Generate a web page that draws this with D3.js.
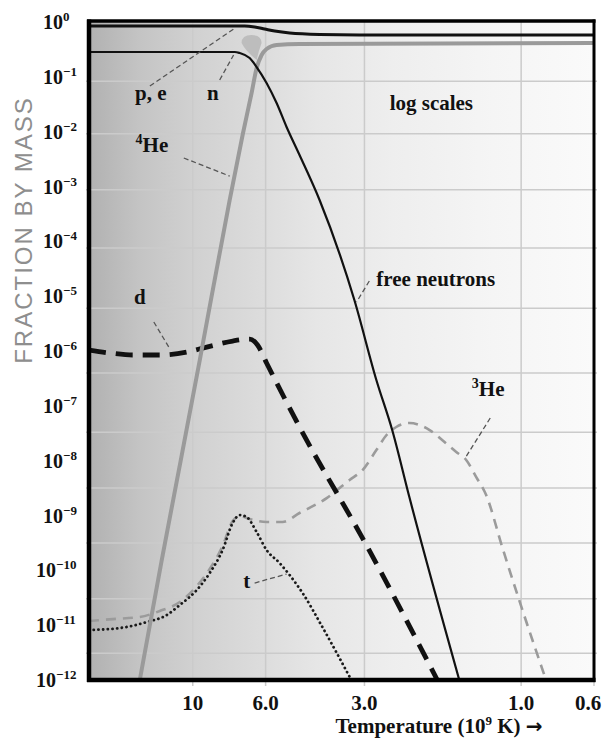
<!DOCTYPE html>
<html>
<head>
<meta charset="utf-8">
<script src="https://cdn.jsdelivr.net/npm/d3@7"></script>
<style>
  body { margin: 0; background: #fff; }
  text { font-family: "Liberation Serif", "Times New Roman", serif; font-weight: bold; fill: #111; }
</style>
</head>
<body>
<svg id="chart" width="605" height="740"></svg>
<script>
// temperature in 10^9 K, mass fraction
const peT = [20.7, 6.95, 6.48, 6.04, 5.63, 5.07, 4.11, 3.11, 0.6];
const peV = [0.845, 0.845, 0.811, 0.745, 0.685, 0.630, 0.592, 0.58, 0.58];

const nT = [20.7, 7.45, 7.2, 6.71, 6.39, 5.96, 5.555, 5.18, 4.73, 4.11, 3.22, 2.76, 2.47, 2.19, 1.543];
const nV = [0.284, 0.284, 0.272, 0.220, 0.151, 0.0772, 0.0333, 0.01217, 3.75e-3, 5.67e-4, 8.5e-6, 2.96e-7, 3.62e-8, 2.17e-9, 1e-12];

const he4T = [14.5, 12.43, 10.8, 9.52, 7.72, 7.05, 6.62, 6.39, 6.17, 5.96, 5.555, 4.73, 0.6];
const he4V = [1e-12, 1.54e-10, 1.27e-8, 6.85e-7, 5.67e-4, 8.69e-3, 0.0507, 0.145, 0.250, 0.322, 0.381, 0.397, 0.414];

const dT = [20.7, 17.88, 15.22, 12.6, 10.43, 9.07, 7.56, 6.71, 6.35, 5.96, 4.73, 2.96, 1.80];
const dV = [1.04e-6, 9.18e-7, 8.45e-7, 8.45e-7, 9.57e-7, 1.18e-6, 1.52e-6, 1.65e-6, 1.29e-6, 6.04e-7, 4.11e-8, 2.89e-10, 1e-12];

const he3T = [20.7, 17.5, 14.5, 12.6, 10.95, 9.72, 8.88, 8.11, 7.56, 7.15, 6.71, 5.96, 5.33, 4.73, 3.91, 3.33, 3.04, 2.76, 2.57, 2.40, 2.19, 1.90, 1.74, 1.576, 1.47, 1.37, 1.278, 1.142, 1.014, 0.84];
const he3V = [1.19e-11, 1.29e-11, 1.41e-11, 1.81e-11, 2.64e-11, 5.18e-11, 1.06e-10, 2.78e-10, 7.93e-10, 9.78e-10, 8.62e-10, 7.6e-10, 7.6e-10, 1.11e-9, 2.08e-9, 4.44e-9, 6.75e-9, 1.56e-8, 2.94e-8, 4.11e-8, 4.86e-8, 3.62e-8, 2.38e-8, 1.44e-8, 1.03e-8, 5.03e-9, 2.36e-9, 2.66e-10, 2.87e-11, 1e-12];

const tT = [20.7, 16.67, 13.8, 12.0, 10.95, 9.72, 8.88, 8.11, 7.56, 7.19, 6.85, 6.39, 5.96, 5.44, 5.07, 4.63, 4.03, 3.29];
const tV = [8.15e-12, 8.87e-12, 1.14e-11, 1.53e-11, 2.33e-11, 4.38e-11, 8.93e-11, 2.35e-10, 7.29e-10, 1.02e-9, 9.38e-10, 5.0e-10, 2.35e-10, 1.36e-10, 8.2e-11, 3.86e-11, 9.25e-12, 1e-12];

// axis ticks
const xTicks = [10, 6.0, 3.0, 1.0, 0.6];
const xTickLabels = ["10", "6.0", "3.0", "1.0", "0.6"];
const xGrid = [10, 6, 3, 1];
const yExps = [0, -1, -2, -3, -4, -5, -6, -7, -8, -9, -10, -11, -12];
// the grid rows in the figure do not sit exactly on the decades
const yGridExps = [-1.08, -2.04, -3.06, -4.12, -5.22, -6.4, -7.48, -8.5, -9.5, -10.52, -11.51];

// the grey patch where n and 4He cross
const blobAt = [6.62, 0.414];
const blobTip = [6.39, 0.203];

// labels with their dashed pointers: [T, fraction]
const notes = [
  {text: "p, e", at: [13.42, 0.0507], from: [13.51, 0.068], to: [7.51, 0.745]},
  {text: "n", at: [8.69, 0.0507], from: [8.28, 0.0875], to: [7.51, 0.25]},
  {text: "He", sup: "4", at: [13.32, 4.26e-3], from: [10.65, 3.31e-3], to: [7.72, 1.55e-3]},
  {text: "log scales", at: [1.877, 0.0333]},
  {text: "d", at: [14.5, 9.66e-6], from: [13.14, 3.38e-6], to: [11.83, 1.18e-6]},
  {text: "free neutrons", at: [2.76, 2.06e-5], from: [2.90, 1.89e-5], to: [3.17, 7.82e-6], start: true},
  {text: "He", sup: "3", at: [1.26, 1.51e-7], from: [1.242, 6.0e-8], to: [1.48, 1.12e-8]},
  {text: "t", at: [6.85, 6.38e-11], from: [6.48, 5.87e-11], to: [5.18, 8.57e-11]}
];

const svg = d3.select("#chart");
const pl = 89, pr = 594, pt = 22, pb = 680;

const x = d3.scaleLog().domain([20.7, 0.6]).range([pl, pr]);
const y = d3.scaleLog().domain([1, 1e-12]).range([pt, pb]);

const defs = svg.append("defs");
const grad = defs.append("linearGradient").attr("id", "bg").attr("x1", 0).attr("x2", 1).attr("y1", 0).attr("y2", 0);
[[0, "#b1b1b1"], [0.1, "#c4c4c4"], [0.2, "#d0d0d0"], [0.35, "#dddddd"], [0.45, "#e6e6e6"], [0.6, "#eeeeee"], [0.8, "#f5f5f5"], [1, "#fafafa"]]
  .forEach(s => grad.append("stop").attr("offset", s[0]).attr("stop-color", s[1]));
defs.append("clipPath").attr("id", "clip")
  .append("rect").attr("x", pl).attr("y", pt - 1).attr("width", pr - pl).attr("height", pb - pt + 1);

svg.append("rect")
   .attr("x", pl).attr("y", pt - 1)
   .attr("width", pr - pl).attr("height", pb - pt + 1)
   .attr("fill", "url(#bg)");

// grid
svg.append("g").selectAll("line")
   .data(yGridExps)
   .enter().append("line")
   .attr("x1", pl - 3).attr("x2", pr + 3)
   .attr("y1", d => y(Math.pow(10, d))).attr("y2", d => y(Math.pow(10, d)))
   .attr("stroke", "#cbcbcb").attr("stroke-width", 1.5);

svg.append("g").selectAll("line")
   .data(xGrid)
   .enter().append("line")
   .attr("x1", d => x(d)).attr("x2", d => x(d))
   .attr("y1", pt).attr("y2", pb + 6)
   .attr("stroke", "#cbcbcb").attr("stroke-width", 1.5);

svg.append("line")
   .attr("x1", x(0.6)).attr("x2", x(0.6)).attr("y1", pb).attr("y2", pb + 6)
   .attr("stroke", "#cbcbcb").attr("stroke-width", 1.5);

const plot = svg.append("g").attr("clip-path", "url(#clip)");

// patch
const bx = x(blobAt[0]), by = y(blobAt[1]), tx = x(blobTip[0]), ty = y(blobTip[1]);
plot.append("path")
    .attr("d", `M${bx - 10},${by} Q${bx - 10},${by - 8} ${bx},${by - 8} Q${bx + 10},${by - 8} ${bx + 10},${by} Q${bx + 7},${by + 8} ${tx},${ty} Q${bx - 6},${by + 8} ${bx - 10},${by} Z`)
    .attr("fill", "#bdbdbd");

const line = d3.line()
               .x(d => x(d[0]))
               .y(d => y(d[1]))
               .curve(d3.curveMonotoneX);

function series(T, V, stroke, width, dash, cap) {
  plot.append("path")
      .datum(T.map((t, i) => [t, V[i]]))
      .attr("d", line)
      .attr("fill", "none")
      .attr("stroke", stroke)
      .attr("stroke-width", width)
      .attr("stroke-dasharray", dash)
      .attr("stroke-linecap", cap || "butt");
}

series(he3T, he3V, "#9b9b9b", 2.6, "10,7");
series(tT, tV, "#1a1a1a", 2.8, "0.1,4.6", "round");
series(dT, dV, "#111", 4.8, "17,10");
series(he4T, he4V, "#9a9a9a", 4, null);
series(nT, nV, "#111", 2.2, null);
series(peT, peV, "#111", 3, null);

// frame
svg.append("line").attr("x1", pl - 2).attr("x2", pr + 1.5).attr("y1", pt - 1).attr("y2", pt - 1)
   .attr("stroke", "#000").attr("stroke-width", 3.5);
svg.append("line").attr("x1", pr).attr("x2", pr).attr("y1", pt - 2.5).attr("y2", pb + 2)
   .attr("stroke", "#000").attr("stroke-width", 3);
svg.append("line").attr("x1", pl).attr("x2", pl).attr("y1", pt - 2.5).attr("y2", pb + 2)
   .attr("stroke", "#000").attr("stroke-width", 4.5);
svg.append("line").attr("x1", pl - 2).attr("x2", pr + 1.5).attr("y1", pb).attr("y2", pb)
   .attr("stroke", "#000").attr("stroke-width", 4.5);

// y tick labels
const yLab = svg.append("g").selectAll("text")
   .data(yExps)
   .enter().append("text")
   .attr("x", d => d <= -10 ? 36 : 43)
   .attr("y", d => y(Math.pow(10, d)) + 7)
   .attr("font-size", 20);
yLab.append("tspan").text("10");
yLab.append("tspan").attr("font-size", 13).attr("dy", -8)
    .text(d => d === 0 ? "0" : "\u2212" + (-d));

// x tick labels
svg.append("g").selectAll("text")
   .data(xTicks)
   .enter().append("text")
   .attr("x", d => x(d) - (d === 0.6 ? 6 : 0))
   .attr("y", 710)
   .attr("text-anchor", "middle")
   .attr("font-size", 21)
   .text((d, i) => xTickLabels[i]);

// axis titles
const xt = svg.append("text")
   .attr("x", 439).attr("y", 733)
   .attr("text-anchor", "middle")
   .attr("font-size", 21);
xt.append("tspan").text("Temperature (10");
xt.append("tspan").attr("font-size", 13).attr("dy", -8).text("9");
xt.append("tspan").attr("dy", 8).text(" K) ");
xt.append("tspan").style("font-family", "'DejaVu Sans', sans-serif").attr("font-size", 20).text("\u2192");

svg.append("text")
   .attr("transform", "translate(32,230) rotate(-90)")
   .attr("text-anchor", "middle")
   .attr("font-size", 24)
   .attr("letter-spacing", 2)
   .style("fill", "#8e8e8e")
   .style("font-family", "'Liberation Sans', Arial, sans-serif")
   .style("font-weight", "normal")
   .text("FRACTION BY MASS");

// annotations
const pointers = notes.filter(d => d.from);
svg.append("g").selectAll("line")
   .data(pointers)
   .enter().append("line")
   .attr("x1", d => x(d.from[0])).attr("y1", d => y(d.from[1]))
   .attr("x2", d => x(d.to[0])).attr("y2", d => y(d.to[1]))
   .attr("stroke", "#555").attr("stroke-width", 1.3).attr("stroke-dasharray", "5,3");

const lab = svg.append("g").selectAll("text")
   .data(notes)
   .enter().append("text")
   .attr("x", d => x(d.at[0]))
   .attr("y", d => y(d.at[1]))
   .attr("dy", "0.35em")
   .attr("text-anchor", d => d.start ? "start" : "middle")
   .attr("font-size", 21);
lab.filter(d => d.sup).append("tspan").attr("font-size", 14).attr("dy", -8).text(d => d.sup);
lab.append("tspan").attr("dy", d => d.sup ? 8 : null).text(d => d.text);
</script>
</body>
</html>
